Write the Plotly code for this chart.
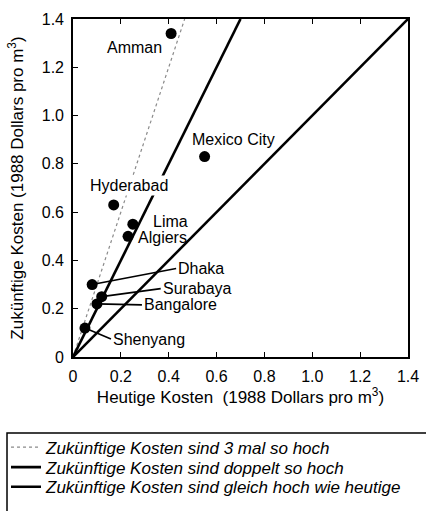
import plotly.graph_objects as go

# Städte mit heutigen und künftigen Wasserkosten (1988 Dollars pro m3)
staedte = ['Amman', 'Mexico City', 'Hyderabad', 'Lima', 'Algiers',
           'Dhaka', 'Surabaya', 'Bangalore', 'Shenyang']
heutige = [0.41, 0.55, 0.17, 0.25, 0.23, 0.08, 0.12, 0.10, 0.05]
zukuenftige = [1.34, 0.83, 0.63, 0.55, 0.50, 0.30, 0.25, 0.22, 0.12]

# Vergleichslinien: künftig = faktor * heutig
faktoren = [3, 2, 1]
legenden_texte = ['Zukünftige Kosten sind 3 mal so hoch',
                  'Zukünftige Kosten sind doppelt so hoch',
                  'Zukünftige Kosten sind gleich hoch wie heutige']

tick_werte = [0, 0.2, 0.4, 0.6, 0.8, 1.0, 1.2, 1.4]
tick_texte = ['0', '0.2', '0.4', '0.6', '0.8', '1.0', '1.2', '1.4']

FONT = 'Liberation Sans, Arial, Helvetica, sans-serif'
MAX = 1.4

linien_stil = {
    3: dict(color='#8a8a8a', width=1.2, dash='dot'),
    2: dict(color='black', width=2.6),
    1: dict(color='black', width=2.6),
}

# jede Legendenzeile als eigene Legende, damit der Zeilenabstand passt
legenden_ids = ['legend', 'legend2', 'legend3']
legenden_y = [-0.268, -0.327, -0.385]

fig = go.Figure()

for k, name, lid in zip(faktoren, legenden_texte, legenden_ids):
    fig.add_trace(go.Scatter(
        x=[0, MAX / k], y=[0, MAX],
        mode='lines', name=name, legend=lid,
        line=linien_stil[k],
        hoverinfo='skip'
    ))

fig.add_trace(go.Scatter(
    x=heutige, y=zukuenftige, text=staedte,
    mode='markers', showlegend=False,
    marker=dict(color='black', size=11),
    hovertemplate='%{text}<br>%{x} / %{y}<extra></extra>'
))

# Beschriftungen: entweder verschoben oder mit Hinweislinie (Pixel)
label_setup = {
    'Amman':       dict(xshift=-37, yshift=-14),
    'Mexico City': dict(xshift=29, yshift=17),
    'Hyderabad':   dict(xshift=15, yshift=19, bgcolor='white'),
    'Lima':        dict(xshift=18, yshift=3, xanchor='left'),
    'Algiers':     dict(xshift=8, yshift=-1, xanchor='left'),
    'Dhaka':       dict(ax=84, ay=-16),
    'Surabaya':    dict(ax=59, ay=-8),
    'Bangalore':   dict(ax=45, ay=1),
    'Shenyang':    dict(ax=26, ay=11),
}

for stadt, hx, zy in zip(staedte, heutige, zukuenftige):
    opts = label_setup[stadt]
    if 'ax' in opts:
        fig.add_annotation(
            x=hx, y=zy, text=stadt, showarrow=True,
            ax=opts['ax'], ay=opts['ay'], xanchor='left',
            arrowhead=0, arrowwidth=1.6, arrowcolor='black',
            standoff=0, font=dict(family=FONT, size=16, color='black')
        )
    else:
        fig.add_annotation(
            x=hx, y=zy, text=stadt, showarrow=False,
            xshift=opts['xshift'], yshift=opts['yshift'],
            xanchor=opts.get('xanchor', 'center'),
            bgcolor=opts.get('bgcolor', 'rgba(0,0,0,0)'),
            font=dict(family=FONT, size=16, color='black')
        )

achse = dict(
    range=[0, MAX], tickvals=tick_werte, ticktext=tick_texte,
    ticks='inside', ticklen=5, tickwidth=1.2, tickcolor='black',
    showline=True, linecolor='black', linewidth=1.6,
    showgrid=False, zeroline=False, ticklabelstandoff=4,
    tickfont=dict(family=FONT, size=16, color='black'),
)

fig.update_xaxes(**achse, mirror='ticks',
                 title=dict(text='Heutige Kosten\u00a0 (1988 Dollars pro m<sup>3</sup>)',
                            font=dict(family=FONT, size=17, color='black'),
                            standoff=4))
fig.update_yaxes(**achse, mirror=True,
                 title=dict(text='Zukünftige Kosten (1988 Dollars pro m<sup>3</sup>)',
                            font=dict(family=FONT, size=17, color='black'),
                            standoff=14))

# Legendenrahmen läuft rechts und unten aus dem Bild
fig.add_shape(type='rect', xref='paper', yref='paper',
              x0=-0.197, x1=1.2, y0=-0.8, y1=-0.225,
              line=dict(color='black', width=1.5), fillcolor='rgba(0,0,0,0)')

legende_basis = dict(x=-0.2, xanchor='left', yanchor='middle',
                     bgcolor='rgba(0,0,0,0)', borderwidth=0,
                     font=dict(family=FONT, size=17, color='black', style='italic'))

fig.update_layout(
    width=426, height=511,
    margin=dict(l=73, r=18, t=19, b=154, autoexpand=False),
    plot_bgcolor='white', paper_bgcolor='white',
    showlegend=True,
    legend=dict(legende_basis, y=legenden_y[0]),
    legend2=dict(legende_basis, y=legenden_y[1]),
    legend3=dict(legende_basis, y=legenden_y[2]),
)

fig.write_html('out.html', config={'displayModeBar': False},
               post_script="document.body.style.margin='0';")
